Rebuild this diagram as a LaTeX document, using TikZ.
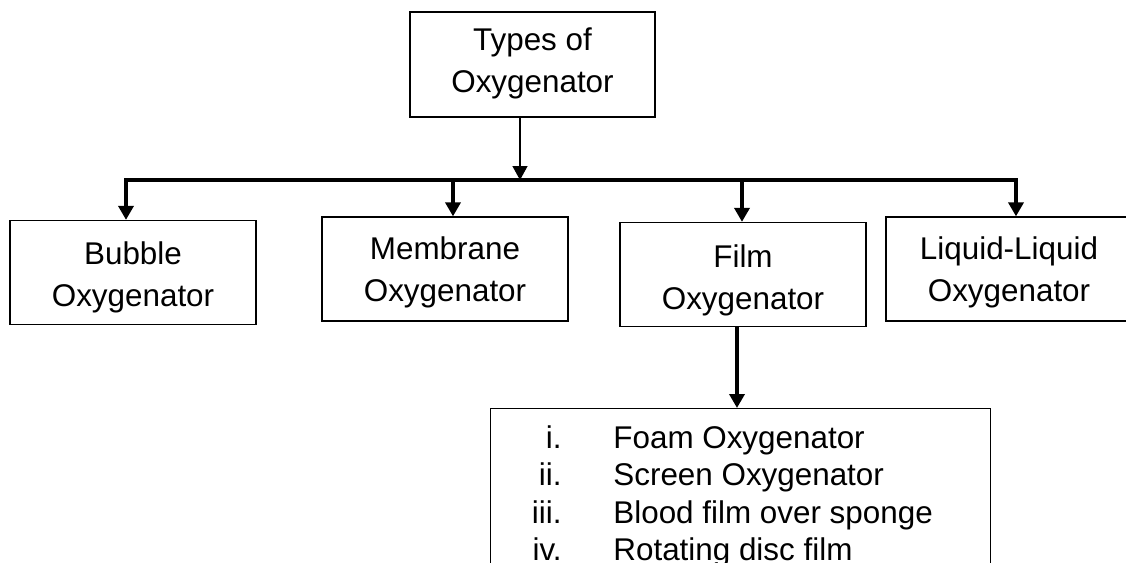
\documentclass[tikz,border=0pt]{standalone}
\usepackage{fontspec}
\setmainfont{Liberation Sans}
\usetikzlibrary{arrows.meta}
\begin{document}
\begin{tikzpicture}[x=0.5pt,y=-0.5pt,
  box/.style={draw=black, line width=0.65pt, inner sep=0pt, minimum width=123pt, minimum height=52pt},
  boxtext/.style={inner sep=0pt, align=center, font=\fontsize{15.7}{21}\selectfont},
  thinarrow/.style={line width=0.65pt, -{Triangle[length=7pt,width=7.5pt]}},
  thickarrow/.style={line width=1.75pt, -{Triangle[length=7pt,width=7.5pt]}},
  busline/.style={line width=1.75pt, line join=miter, {Triangle[length=7pt,width=7.5pt]}-{Triangle[length=7pt,width=7.5pt]}},
  listbox/.style={draw=black, line width=0.65pt, inner sep=0pt},
  num/.style={inner sep=0pt, anchor=base east, font=\fontsize{15.7}{18.5}\selectfont},
  item/.style={inner sep=0pt, anchor=base west, font=\fontsize{15.7}{18.5}\selectfont}
]
\useasboundingbox (0,0) rectangle (1126,563);
\fill[white] (0,0) rectangle (1126,563);

\node[box, minimum height=52.5pt, minimum width=122.5pt] (top) at (532.5,64.5) {};
\node[boxtext] (topT) at (532.5,63) {Types of\\Oxygenator};
\node[box] (bubble) at (133,272.5) {};
\node[boxtext] (bubbleT) at (133,277) {Bubble\\Oxygenator};
\node[box] (membrane) at (445,269) {};
\node[boxtext] (membraneT) at (445,272.5) {Membrane\\Oxygenator};
\node[box] (film) at (743,274.5) {};
\node[boxtext] (filmT) at (743,280) {Film\\Oxygenator};
\node[box] (liquid) at (1009,269) {};
\node[boxtext] (liquidT) at (1009,272.5) {Liquid-Liquid\\Oxygenator};

\coordinate (busL) at (126,180);
\coordinate (busR) at (1016,180);
\coordinate (busT) at (520,180);
\coordinate (memA) at (453,181);
\coordinate (filA) at (742,181);

\draw[busline] (busL |- bubble.north) -- (busL) -- (busR) -- (busR |- liquid.north);
\draw[thinarrow] (busT |- top.south) -- (busT);
\draw[thickarrow] (memA) -- (memA |- membrane.north);
\draw[thickarrow] (filA) -- (filA |- film.north);

\node[listbox, minimum width=250pt, minimum height=100pt, anchor=north west] (list) at (490,408) {};
\coordinate (listA) at (737,408);
\draw[thickarrow] (listA |- film.south) -- (listA);

\node[num] (n1) at (562,448) {i.};
\node[num] (n2) at (562,485) {ii.};
\node[num] (n3) at (562,523) {iii.};
\node[num] (n4) at (562,560) {iv.};
\node[item] (i1) at (613,448) {Foam Oxygenator};
\node[item] (i2) at (613,485) {Screen Oxygenator};
\node[item] (i3) at (613,523) {Blood film over sponge};
\node[item] (i4) at (613,560) {Rotating disc film};
\end{tikzpicture}
\end{document}
